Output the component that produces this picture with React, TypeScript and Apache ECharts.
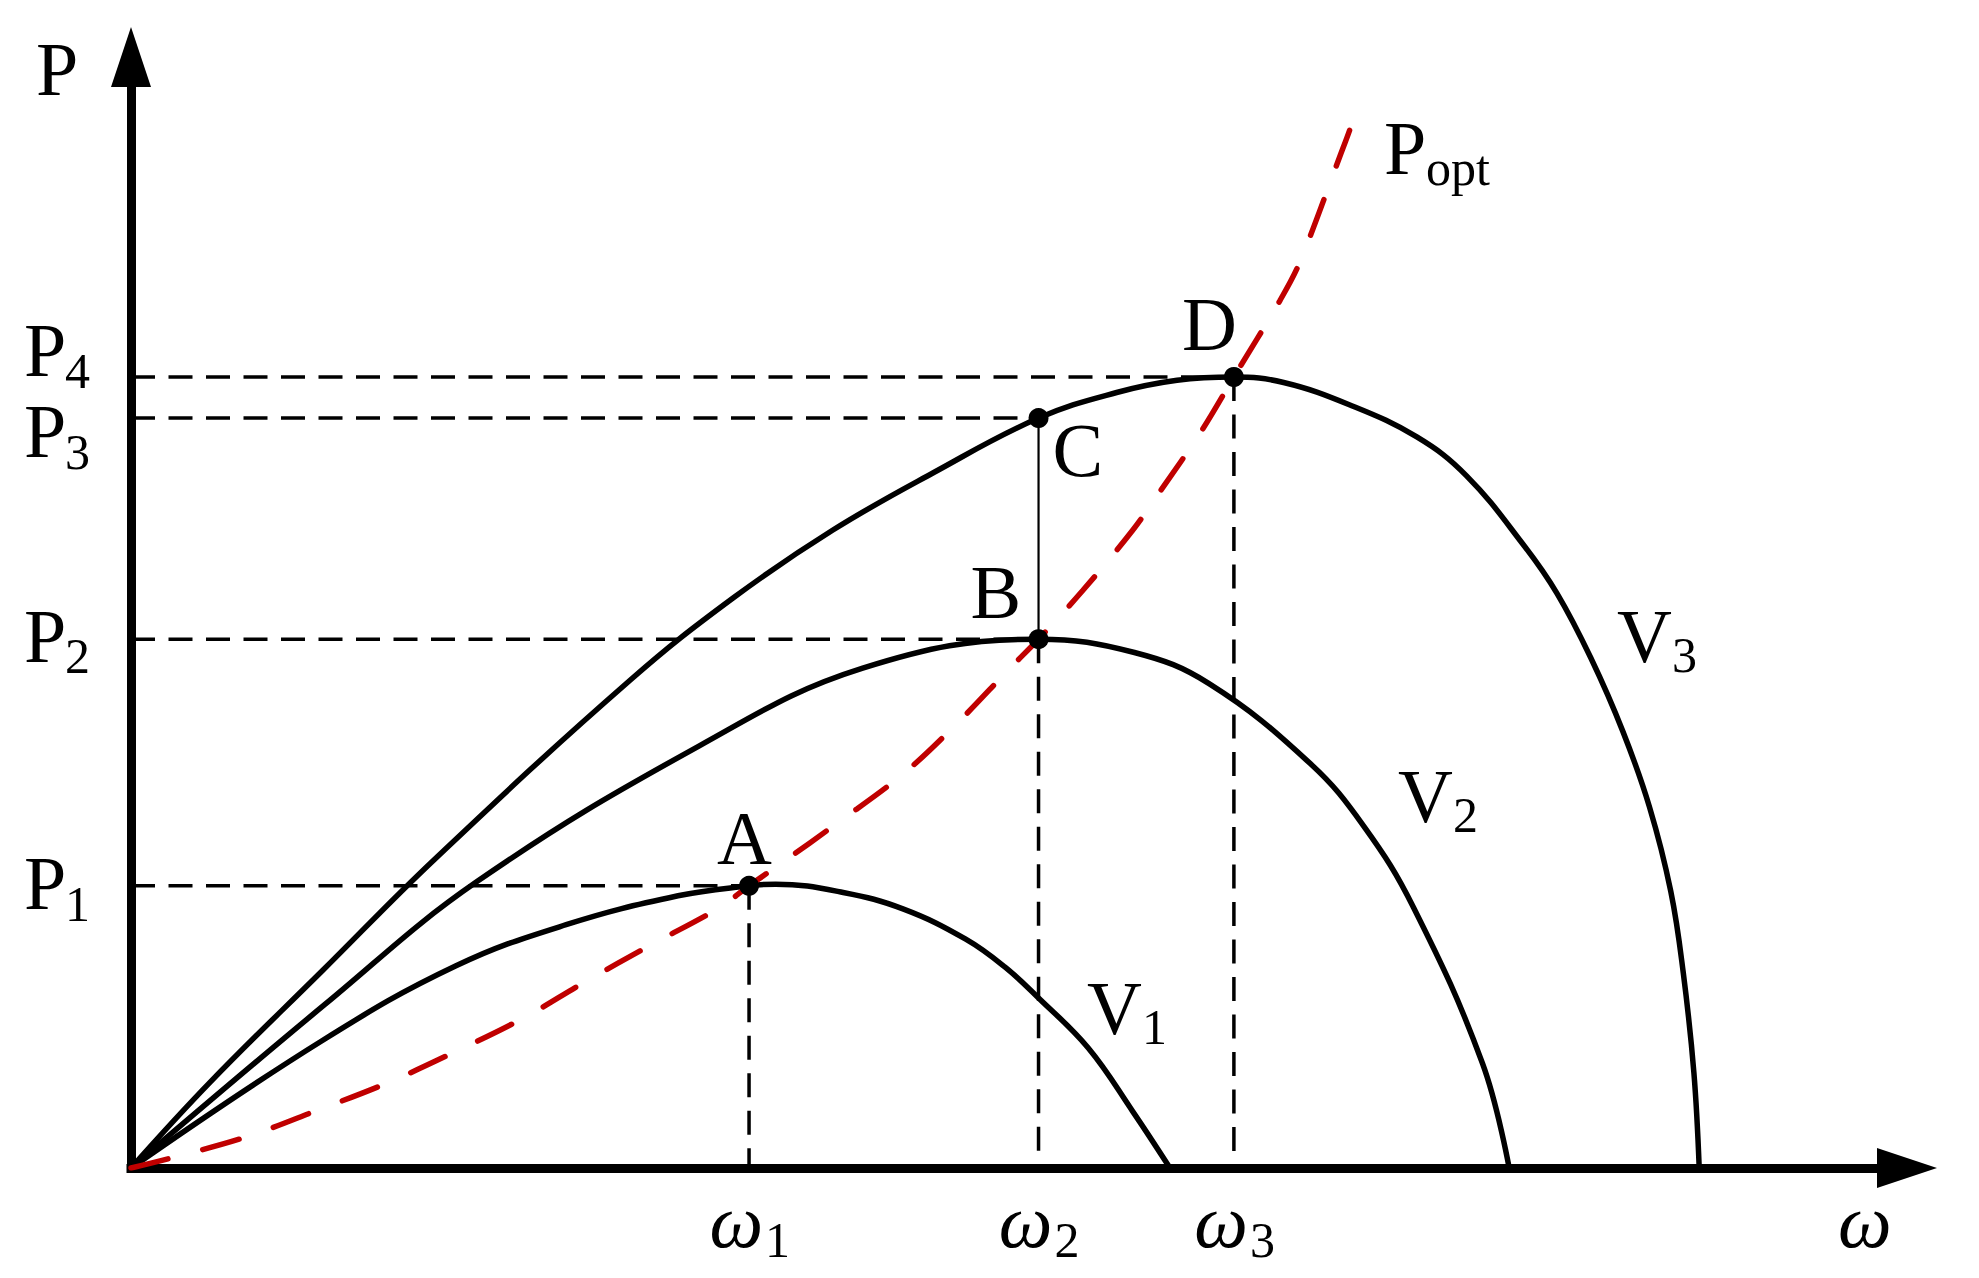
import { useEffect, useRef } from 'react';
import * as echarts from 'echarts';

// ---------- data (abstract units: omega 0..10, P 0..10) ----------
const X_MAX = 10;
const Y_MAX = 10;

const OMEGA_VALUES = [3.48, 5.11, 6.21]; // ω1, ω2, ω3
const POWER_VALUES = [2.54, 4.76, 6.75, 7.12]; // P1..P4

const OMEGA_TICK_LABELS = [['ω', '1'], ['ω', '2'], ['ω', '3']];
const POWER_TICK_LABELS = [['P', '1'], ['P', '2'], ['P', '3'], ['P', '4']];

const POINT_NAMES = ['A', 'B', 'C', 'D'];
const POINT_OMEGA = [3.48, 5.11, 5.11, 6.21];
const POINT_POWER = [2.54, 4.76, 6.75, 7.12];

const CURVE_NAMES = [['V', '1'], ['V', '2'], ['V', '3']];
const OPT_NAME = ['P', 'opt'];
const AXIS_NAMES = ['P', 'ω'];

const V1_CURVE = [
  [0, 0], [1.08, 1.15], [1.83, 1.82], [2.45, 2.19], [3.08, 2.45], [3.48, 2.54],
  [3.63, 2.555], [4.01, 2.48], [4.35, 2.33], [4.7, 2.06], [4.92, 1.81], [5.11, 1.53],
  [5.39, 1.08], [5.64, 0.51], [5.85, 0],
];
const V2_CURVE = [
  [0, 0], [1.09, 1.47], [1.95, 2.58], [3.2, 3.8], [4.12, 4.5], [5.11, 4.76],
  [5.65, 4.64], [6.07, 4.36], [6.64, 3.64], [6.94, 3.08], [7.22, 2.35], [7.61, 0.94], [7.76, 0],
];
const V3_CURVE = [
  [0, 0], [0.45, 0.78], [1.08, 1.78], [1.71, 2.78], [2.81, 4.39], [3.39, 5.13],
  [3.95, 5.74], [4.52, 6.26], [5.11, 6.75], [5.55, 6.98], [5.89, 7.09], [6.21, 7.12],
  [6.49, 7.07], [6.86, 6.87], [7.24, 6.58], [7.52, 6.23], [7.84, 5.61], [8.03, 5.17],
  [8.22, 4.59], [8.4, 3.93], [8.55, 3.25], [8.67, 2.49], [8.74, 1.76], [8.8, 0.86], [8.83, 0],
];
const POPT_CURVE = [
  [0, 0], [0.25, 0.1], [0.65, 0.28], [1.05, 0.52], [1.45, 0.77], [1.83, 1.05],
  [2.21, 1.35], [2.55, 1.67], [2.93, 2.01], [3.31, 2.34], [3.48, 2.54], [3.65, 2.73],
  [3.99, 3.12], [4.35, 3.55], [4.65, 4.0], [4.95, 4.5], [5.11, 4.76], [5.36, 5.2],
  [5.64, 5.74], [5.79, 6.08], [6.03, 6.64], [6.21, 7.12], [6.47, 7.81], [6.58, 8.15],
  [6.81, 9.12], [6.87, 9.38], [6.91, 9.59],
];

// ---------- styling / layout ----------
const FONT = '"Liberation Serif", "Times New Roman", serif';
const MAIN = 76;
const SUB = 50;
const CENTRAL = 0.3375; // central-baseline offset of Liberation Serif (em)
const RED = '#C00000';

// label offsets in px (left x, baseline) relative to their anchors
const POINT_LABEL_OFFSETS = [[-32, -22], [-68, -22], [14, 58], [-52, -27]];
const POWER_LABEL_DY = [23, 22, 39, -1];
const CURVE_LABEL_OFFSETS = [[956, -134], [1267, -346], [1486, -506]]; // from origin
const OPT_LABEL_OFFSET = [1253, -994];

export default function App() {
  const ref = useRef<HTMLDivElement>(null);

  useEffect(() => {
    const el = ref.current;
    if (!el) return;
    const chart = echarts.init(el, null, { renderer: 'svg' });

    const dashed = { color: '#000', width: 3.5, type: [24, 13.5], cap: 'butt' };
    const series: any[] = [];

    // horizontal guides from y-axis to each point
    POINT_NAMES.forEach((_, i) => {
      series.push({
        type: 'line', silent: true, symbol: 'none', z: 1,
        data: [[0, POINT_POWER[i]], [POINT_OMEGA[i], POINT_POWER[i]]],
        lineStyle: dashed,
      });
    });
    // vertical guides from the lowest point at each omega to the x-axis
    OMEGA_VALUES.forEach((w) => {
      const ps = POINT_POWER.filter((_, i) => POINT_OMEGA[i] === w);
      const p = Math.min(...ps);
      series.push({
        type: 'line', silent: true, symbol: 'none', z: 1,
        data: [[w, p], [w, 0]],
        lineStyle: dashed,
      });
    });
    // solid thin line B -> C
    series.push({
      type: 'line', silent: true, symbol: 'none', z: 1,
      data: [[POINT_OMEGA[1], POINT_POWER[1]], [POINT_OMEGA[2], POINT_POWER[2]]],
      lineStyle: { color: '#000', width: 2.2 },
    });

    [V1_CURVE, V2_CURVE, V3_CURVE].forEach((c) => {
      series.push({
        type: 'line', silent: true, symbol: 'none', z: 3, smooth: 0.4,
        data: c,
        lineStyle: { color: '#000', width: 5.5, cap: 'round', join: 'round' },
      });
    });

    series.push({
      type: 'line', silent: true, symbol: 'none', z: 4, smooth: 0.35,
      data: POPT_CURVE,
      lineStyle: { color: RED, width: 5.5, type: [38, 36], cap: 'round' },
    });

    series.push({
      type: 'scatter', silent: true, z: 5, symbol: 'circle', symbolSize: 20,
      data: POINT_OMEGA.map((w, i) => [w, POINT_POWER[i]]),
      itemStyle: { color: '#000', opacity: 1 },
    });

    const axisCommon = {
      type: 'value',
      min: 0,
      axisLine: {
        show: true, onZero: false,
        symbol: ['none', 'triangle'], symbolSize: [40, 60],
        lineStyle: { color: '#000', width: 9, cap: 'square' },
      },
      axisTick: { show: false },
      axisLabel: { show: false },
      splitLine: { show: false },
    };

    chart.setOption({
      animation: false,
      backgroundColor: '#ffffff',
      grid: { left: 131, right: 72, top: 57, bottom: 110, outerBoundsMode: 'none' },
      xAxis: { ...axisCommon, max: X_MAX },
      yAxis: { ...axisCommon, max: Y_MAX },
      series,
    });

    const px = (x: number, y: number) =>
      chart.convertToPixel({ gridIndex: 0 }, [x, y]) as number[];

    const T = (text: string, x: number, baseline: number, size: number, italic = false, align = 'left') => ({
      type: 'text', x, y: baseline - CENTRAL * size, silent: true, z: 10,
      style: {
        text, fill: '#000', fontSize: size, fontFamily: FONT,
        fontStyle: italic ? 'italic' : 'normal',
        align, verticalAlign: 'middle',
        textAlign: align, textVerticalAlign: 'middle',
      },
    });

    const els: any[] = [];
    const o = px(0, 0);

    // axis titles
    const yTop = px(0, Y_MAX);
    els.push(T(AXIS_NAMES[0], yTop[0] - 95, yTop[1] + 38, MAIN));
    const xEnd = px(X_MAX, 0);
    els.push(T(AXIS_NAMES[1], xEnd[0] - 69, xEnd[1] + 79, MAIN, true));

    // P tick labels
    POWER_VALUES.forEach((p, i) => {
      const a = px(0, p);
      const bl = a[1] + POWER_LABEL_DY[i];
      els.push(T(POWER_TICK_LABELS[i][0], a[0] - 107, bl, MAIN));
      els.push(T(POWER_TICK_LABELS[i][1], a[0] - 66, bl + 12, SUB));
    });

    // omega tick labels
    OMEGA_VALUES.forEach((w, i) => {
      const a = px(w, 0);
      els.push(T(OMEGA_TICK_LABELS[i][0], a[0] + 14, a[1] + 79, MAIN, true, 'right'));
      els.push(T(OMEGA_TICK_LABELS[i][1], a[0] + 16, a[1] + 89, SUB));
    });

    // point labels
    POINT_NAMES.forEach((n, i) => {
      const a = px(POINT_OMEGA[i], POINT_POWER[i]);
      els.push(T(n, a[0] + POINT_LABEL_OFFSETS[i][0], a[1] + POINT_LABEL_OFFSETS[i][1], MAIN));
    });

    // curve labels
    CURVE_NAMES.forEach((n, i) => {
      const x = o[0] + CURVE_LABEL_OFFSETS[i][0];
      const bl = o[1] + CURVE_LABEL_OFFSETS[i][1];
      els.push(T(n[0], x, bl, MAIN));
      els.push(T(n[1], x + 55, bl + 10, SUB));
    });
    {
      const x = o[0] + OPT_LABEL_OFFSET[0];
      const bl = o[1] + OPT_LABEL_OFFSET[1];
      els.push(T(OPT_NAME[0], x, bl, MAIN));
      els.push(T(OPT_NAME[1], x + 42, bl + 11, SUB));
    }

    chart.setOption({ graphic: { elements: els } });

    return () => chart.dispose();
  }, []);

  return (
    <div
      ref={ref}
      style={{ position: 'absolute', left: 0, top: 0, width: 1979, height: 1278, background: '#fff' }}
    />
  );
}
